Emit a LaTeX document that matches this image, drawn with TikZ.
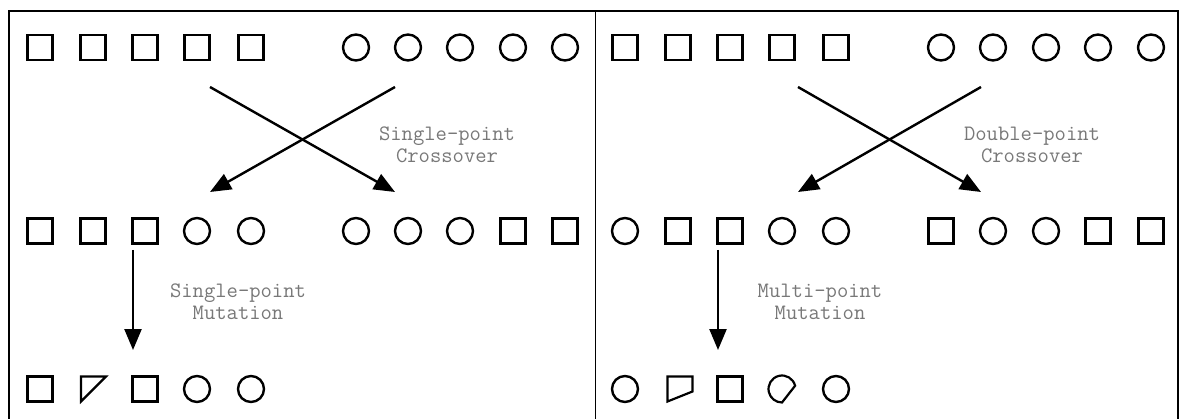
\documentclass[tikz,border=0pt]{standalone}
\usetikzlibrary{arrows.meta,calc}
\definecolor{labelgray}{RGB}{120,120,120}
\begin{document}
\begin{tikzpicture}[x=1pt,y=-1pt,
  sq/.style={draw,rectangle,line width=2.2pt,minimum size=25pt,inner sep=0pt},
  ci/.style={draw,circle,line width=2.4pt,minimum size=26pt,inner sep=0pt},
  gene/.style={line width=2.2pt,line join=miter},
  arr/.style={line width=2.4pt,-{Triangle[length=21pt,width=17pt]}},
  lbl/.style={text=labelgray,font=\ttfamily\fontsize{22}{22}\selectfont,align=center,inner sep=0pt}]
\useasboundingbox (0,0) rectangle (1182,419);
% frame
\draw[line width=2.4pt] (9,420) -- (9,11) -- (1178,11) -- (1178,420);
\draw[line width=1.8pt] (595.5,11) -- (595.5,420);

% ---------- left panel ----------
% row 1
\foreach \n/\x in {1/40,2/93,3/145,4/197,5/251} \node[sq] (La\n) at (\x,47.5) {};
\foreach \n/\x in {1/356,2/408,3/460,4/513,5/565} \node[ci] (Lb\n) at (\x,47.5) {};
% row 2
\node[sq] (Lc1) at (40,231) {};
\node[sq] (Lc2) at (93,231) {};
\node[sq] (Lc3) at (145,231) {};
\node[ci] (Lc4) at (197,231) {};
\node[ci] (Lc5) at (251,231) {};
\node[ci] (Ld1) at (356,231) {};
\node[ci] (Ld2) at (408,231) {};
\node[ci] (Ld3) at (460,231) {};
\node[sq] (Ld4) at (513,231) {};
\node[sq] (Ld5) at (565,231) {};
% row 3
\node[sq] (Le1) at (40,389) {};
\coordinate (Le2) at (93.5,389);
\draw[gene] ($(Le2)+(-12.5,-12.5)$) -- ++(25,0) -- ++(-25,25) -- cycle;
\node[sq] (Le3) at (145,389) {};
\node[ci] (Le4) at (197,389) {};
\node[ci] (Le5) at (251,389) {};
% arrows
\coordinate (LxA) at (210,87);
\coordinate (LxB) at (395,87);
\coordinate (LxC) at (210,192);
\coordinate (LxD) at (395,192);
\draw[arr] (LxA) -- (LxD);
\draw[arr] (LxB) -- (LxC);
\coordinate (LmA) at (133,250);
\coordinate (LmB) at (133,350);
\draw[arr] (LmA) -- (LmB);
\node[lbl] (Llx) at (447,145) {Single-point\\Crossover};
\node[lbl] (Llm) at (238,302) {Single-point\\Mutation};

% ---------- right panel ----------
\foreach \n/\x in {1/625,2/678,3/730,4/782,5/836} \node[sq] (Ra\n) at (\x,47.5) {};
\foreach \n/\x in {1/941,2/993,3/1046,4/1098,5/1151} \node[ci] (Rb\n) at (\x,47.5) {};
% row 2
\node[ci] (Rc1) at (625,231) {};
\node[sq] (Rc2) at (678,231) {};
\node[sq] (Rc3) at (730,231) {};
\node[ci] (Rc4) at (782,231) {};
\node[ci] (Rc5) at (836,231) {};
\node[sq] (Rd1) at (941,231) {};
\node[ci] (Rd2) at (993,231) {};
\node[ci] (Rd3) at (1046,231) {};
\node[sq] (Rd4) at (1098,231) {};
\node[sq] (Rd5) at (1151,231) {};
% row 3
\node[ci] (Re1) at (625,389) {};
\coordinate (Re2) at (680,389);
\draw[gene] ($(Re2)+(-12.5,-12.5)$) -- ++(25,0) -- ++(0,15) -- ++(-25,10) -- cycle;
\node[sq] (Re3) at (730,389) {};
\coordinate (Re4) at (782,389);
\draw[gene] (Re4) ++(-14:13.5) arc[start angle=-14,end angle=-270,radius=13.5] -- cycle;
\node[ci] (Re5) at (836,389) {};
% arrows
\coordinate (RxA) at (798,87);
\coordinate (RxB) at (981,87);
\coordinate (RxC) at (798,192);
\coordinate (RxD) at (981,192);
\draw[arr] (RxA) -- (RxD);
\draw[arr] (RxB) -- (RxC);
\coordinate (RmA) at (718,250);
\coordinate (RmB) at (718,350);
\draw[arr] (RmA) -- (RmB);
\node[lbl] (Rlx) at (1032,145) {Double-point\\Crossover};
\node[lbl] (Rlm) at (820,302) {Multi-point\\Mutation};
\end{tikzpicture}
\end{document}
